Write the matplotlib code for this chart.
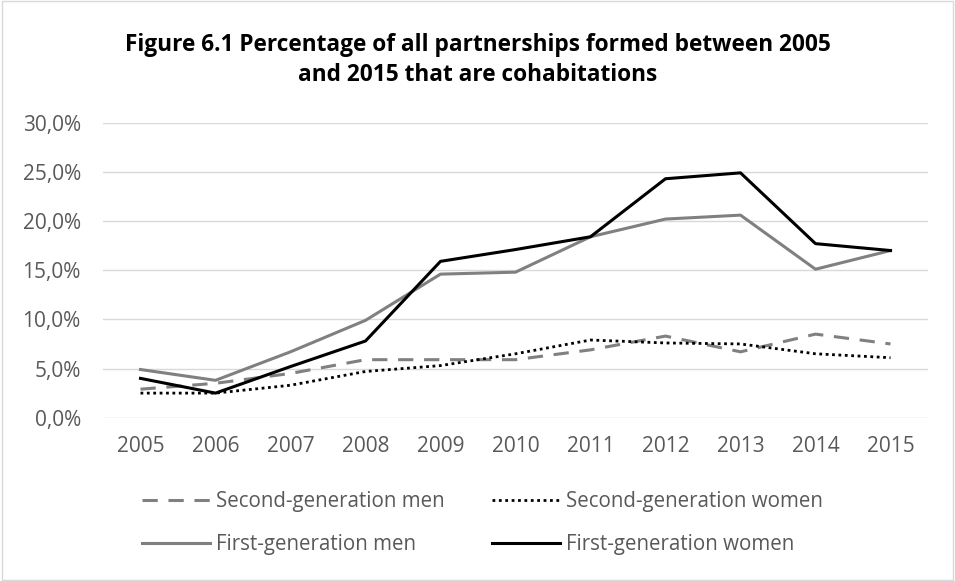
import numpy as np
import matplotlib.pyplot as plt
from matplotlib.patches import Rectangle
from matplotlib.ticker import FuncFormatter

# --- datos ---
years = ["2005", "2006", "2007", "2008", "2009", "2010", "2011", "2012", "2013", "2014", "2015"]
second_gen_men = [2.9, 3.5, 4.5, 5.9, 5.9, 5.9, 6.9, 8.3, 6.7, 8.5, 7.5]
second_gen_women = [2.5, 2.5, 3.3, 4.7, 5.3, 6.5, 7.9, 7.6, 7.5, 6.5, 6.1]
first_gen_men = [4.9, 3.8, 6.7, 9.9, 14.6, 14.8, 18.4, 20.2, 20.6, 15.1, 17.0]
first_gen_women = [4.0, 2.5, 5.2, 7.8, 15.9, 17.1, 18.4, 24.3, 24.9, 17.7, 17.0]

plt.rcParams['font.family'] = ['Open Sans', 'DejaVu Sans']

fig = plt.figure(figsize=(9.55, 5.81), dpi=100)
ax = fig.add_axes([103 / 955, 1 - 417.7 / 581, 825 / 955, (417.7 - 122.7) / 581])

x = np.arange(len(years))
gris = "#808080"
l1, = ax.plot(x, second_gen_men, color=gris, lw=2.2, ls=(0, (5, 3.5)), label="Second-generation men")
l2, = ax.plot(x, second_gen_women, color="black", lw=2.0, ls=(0, (1, 1.3)), label="Second-generation women")
l3, = ax.plot(x, first_gen_men, color=gris, lw=2.2, label="First-generation men")
l4, = ax.plot(x, first_gen_women, color="black", lw=2.2, label="First-generation women")

ax.set_xlim(-0.5, len(years) - 0.5)
ax.set_ylim(0, 30)
ax.set_yticks(np.arange(0, 31, 5))
ax.yaxis.set_major_formatter(FuncFormatter(lambda v, p: f"{v:.1f}%".replace(".", ",")))
ax.set_xticks(x)
ax.set_xticklabels(years)
ax.grid(axis="y", color="#d9d9d9", lw=1.0)
ax.set_axisbelow(True)
for s in ax.spines.values():
    s.set_visible(False)
ax.tick_params(length=0, labelsize=15, colors="#595959")
ax.tick_params(axis="x", pad=13)
ax.tick_params(axis="y", pad=16)

fig.text(0.5, 1 - 60 / 581, "Figure 6.1 Percentage of all partnerships formed between 2005\nand 2015 that are cohabitations",
         ha="center", va="center", fontsize=16.3, fontweight="bold", linespacing=1.35)

# orden por columnas para que las filas queden: segunda generación / primera generación
handles = [l1, l3, l2, l4]
leg = fig.legend(handles, [h.get_label() for h in handles], loc="center",
                 bbox_to_anchor=(0.505, 1 - 523 / 581), ncol=2, frameon=False,
                 fontsize=14.8, handlelength=3.3, columnspacing=2.3, labelspacing=1.1,
                 handletextpad=0.3)
for t in leg.get_texts():
    t.set_color("#595959")

# borde del área del gráfico
fig.patches.append(Rectangle((0.002, 0.002), 0.996, 0.996, transform=fig.transFigure,
                             fill=False, edgecolor="#d9d9d9", lw=1.0))

fig.savefig("out.png", dpi=100)
